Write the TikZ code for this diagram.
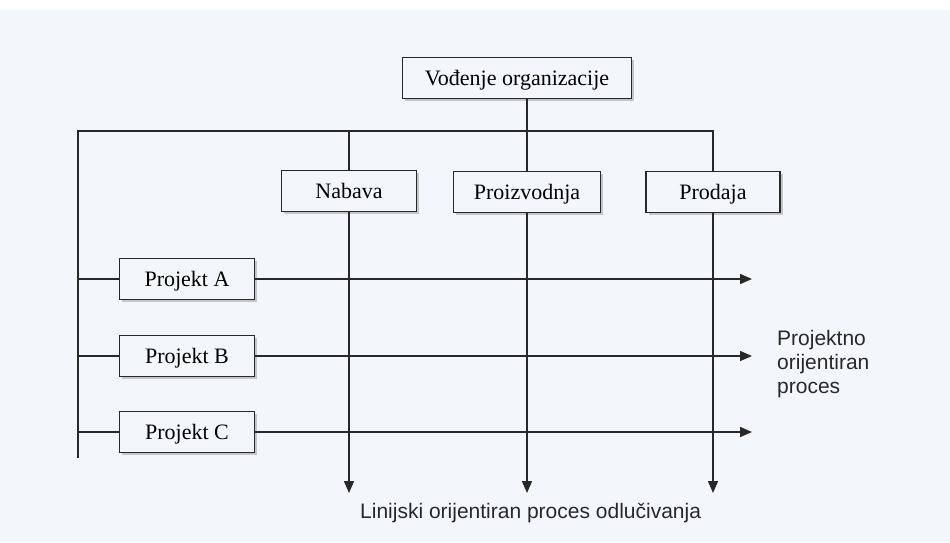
\documentclass[tikz,border=0pt]{standalone}
\usepackage{fontspec}
\setmainfont{Liberation Serif}
\setsansfont{Liberation Sans}
\usepackage{tikz}
\usetikzlibrary{arrows.meta,shadows}
\definecolor{paper}{RGB}{243,246,250}
\definecolor{ink}{RGB}{40,40,40}

\begin{document}
\begin{tikzpicture}[x=1pt,y=-1pt]
        \tikzset{box/.style = {draw=ink,line width=1.5pt,fill=paper,minimum height=41pt,inner sep=0pt,
                 font=\fontsize{22}{26}\selectfont,text height=15pt,text depth=0pt,
                 drop shadow={shadow xshift=2.5pt,shadow yshift=-2.5pt,fill=gray!60,opacity=0.7}}}
        \tikzset{line/.style = {draw=ink,line width=1.5pt}}
        \tikzset{arr/.style = {line,-{Triangle[length=12pt,width=10pt]}}}
        \tikzset{note/.style = {font=\sffamily\fontsize{21}{24}\selectfont,text=ink,inner sep=0pt}}
        % paper
        \fill[white] (0,0) rectangle (950,542);
        \fill[paper] (0,10) rectangle (950,542);
        \useasboundingbox (0,0) rectangle (950,542);

        % boxes
        \node[box,minimum width=229pt] (org) at (517,78) {Vođenje organizacije};
        \node[box,minimum width=135pt] (nabava) at (349,191) {Nabava};
        \node[box,minimum width=147pt] (proizv) at (527,192) {Proizvodnja};
        \node[box,minimum width=134pt] (prodaja) at (713,192) {Prodaja};
        \node[box,minimum width=135pt] (projA) at (187,279) {Projekt A};
        \node[box,minimum width=135pt] (projB) at (187,356) {Projekt B};
        \node[box,minimum width=135pt] (projC) at (187,432) {Projekt C};

        % helper points
        \coordinate (bus) at (78,131);
        \coordinate (lend) at (78,458);
        \coordinate (down) at (0,493);
        \coordinate (right) at (752,0);

        % labels
        \node[note,anchor=west,align=left] (proj) at (777,364) {Projektno\\orijentiran\\proces};
        \node[note,anchor=base west] (lin) at (360,518) {Linijski orijentiran proces odlučivanja};

        % tree lines
        \draw[line] (org.south -| proizv) -- (proizv.north);
        \draw[line] (lend) -- (bus) -| (prodaja.north);
        \draw[line] (bus -| nabava) -- (nabava.north);
        % down arrows
        \draw[arr] (nabava.south) -- (nabava.south |- down);
        \draw[arr] (proizv.south) -- (proizv.south |- down);
        \draw[arr] (prodaja.south) -- (prodaja.south |- down);
        % projects
        \draw[line] (projA.west -| lend) -- (projA.west);
        \draw[line] (projB.west -| lend) -- (projB.west);
        \draw[line] (projC.west -| lend) -- (projC.west);
        \draw[arr] (projA.east) -- (projA.east -| right);
        \draw[arr] (projB.east) -- (projB.east -| right);
        \draw[arr] (projC.east) -- (projC.east -| right);
\end{tikzpicture}
\end{document}
